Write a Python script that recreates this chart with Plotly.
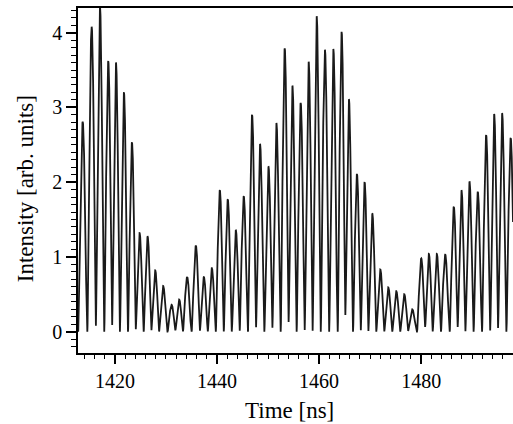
import numpy as np
import plotly.graph_objects as go

# Peak times (ns) and peak intensities (arb. units)
peak_times = [1413.68, 1415.44, 1417.06, 1418.69, 1420.20, 1421.76, 1423.33, 1424.83,
              1426.40, 1427.89, 1429.45, 1431.10, 1432.58, 1434.15, 1435.85, 1437.42,
              1438.98, 1440.55, 1442.11, 1443.68, 1445.24, 1446.87, 1448.43, 1450.08,
              1451.64, 1453.27, 1454.78, 1456.40, 1457.96, 1459.53, 1461.15, 1462.80,
              1464.42, 1465.85, 1467.42, 1468.92, 1470.43, 1472.00, 1473.56, 1475.13,
              1476.69, 1478.26, 1480.02, 1481.51, 1483.07, 1484.72, 1486.40, 1487.91,
              1489.47, 1491.10, 1492.74, 1494.31, 1495.87, 1497.55]
peak_heights = [2.81, 4.08, 4.36, 3.62, 3.60, 3.20, 2.53, 1.32,
                1.27, 0.82, 0.61, 0.36, 0.43, 0.73, 1.15, 0.73,
                0.85, 1.89, 1.77, 1.36, 1.81, 2.90, 2.51, 2.21,
                2.79, 3.79, 3.29, 3.06, 3.61, 4.22, 3.77, 3.78,
                4.01, 3.11, 2.11, 2.00, 1.58, 0.83, 0.59, 0.54,
                0.50, 0.30, 0.98, 1.04, 1.04, 1.03, 1.67, 1.89,
                2.01, 1.87, 2.63, 2.91, 2.92, 2.59]

x_ticks = [1420, 1440, 1460, 1480]
y_ticks = [0, 1, 2, 3, 4]
x_range = [1412.76, 1498.0]
y_range = [-0.286, 4.33]
x_title = "Time [ns]"
y_title = "Intensity [arb. units]"

# Build the pulse-train waveform from the read peaks
pt = np.array(peak_times)
ph = np.array(peak_heights)
gaps = np.diff(pt)
period = np.concatenate([[gaps[0]], (gaps[:-1] + gaps[1:]) / 2, [gaps[-1]]])
t = np.linspace(x_range[0], x_range[1], 9000)
y = np.zeros_like(t)
for tk, ak, pk in zip(pt, ph, period):
    u = np.pi * (t - tk) / pk
    m = np.abs(u) < np.pi / 2
    y[m] += ak * np.cos(u[m]) ** 1.4

fig = go.Figure()
fig.add_trace(go.Scatter(x=t, y=y, mode="lines",
                         line=dict(color="#1a1a1a", width=1.8),
                         hoverinfo="skip", showlegend=False))

serif = "Liberation Serif, Times New Roman, serif"
font = dict(family=serif, size=20, color="black")
tfont = dict(family=serif, size=23, color="black")
fig.update_layout(
    width=513, height=424,
    margin=dict(l=78, r=0, t=8, b=71, autoexpand=False),
    paper_bgcolor="white", plot_bgcolor="white",
    font=font,
    xaxis=dict(range=x_range, tickvals=x_ticks, ticks="outside", ticklen=9,
               tickwidth=1.5, tickcolor="black", showline=True, linecolor="black",
               linewidth=1.5, mirror=True, showgrid=False, zeroline=False,
               automargin=False,
               minor=dict(dtick=2, tick0=1420, ticks="outside", ticklen=4,
                          tickwidth=1.2, tickcolor="black", showgrid=False),
               tickfont=font),
    yaxis=dict(range=y_range, tickvals=y_ticks, ticks="outside", ticklen=10,
               tickwidth=1.5, tickcolor="black", showline=True, linecolor="black",
               linewidth=1.5, showgrid=False, zeroline=False, automargin=False,
               minor=dict(dtick=0.1, tick0=0, ticks="outside", ticklen=5,
                          tickwidth=1.2, tickcolor="black", showgrid=False),
               tickfont=font),
    annotations=[
        dict(text=x_title, xref="paper", yref="paper", x=(289 - 78) / 435,
             y=-(410 - 352.5) / 344.5, xanchor="center", yanchor="middle",
             showarrow=False, font=tfont),
        dict(text=y_title, xref="paper", yref="paper", x=-(78 - 25) / 435,
             y=(352.5 - 189) / 344.5, xanchor="center", yanchor="middle",
             textangle=-90, showarrow=False, font=tfont),
    ],
)
fig.write_html("out.html", config={"displayModeBar": False},
               post_script="document.body.style.margin='0';document.body.style.overflow='hidden';")
